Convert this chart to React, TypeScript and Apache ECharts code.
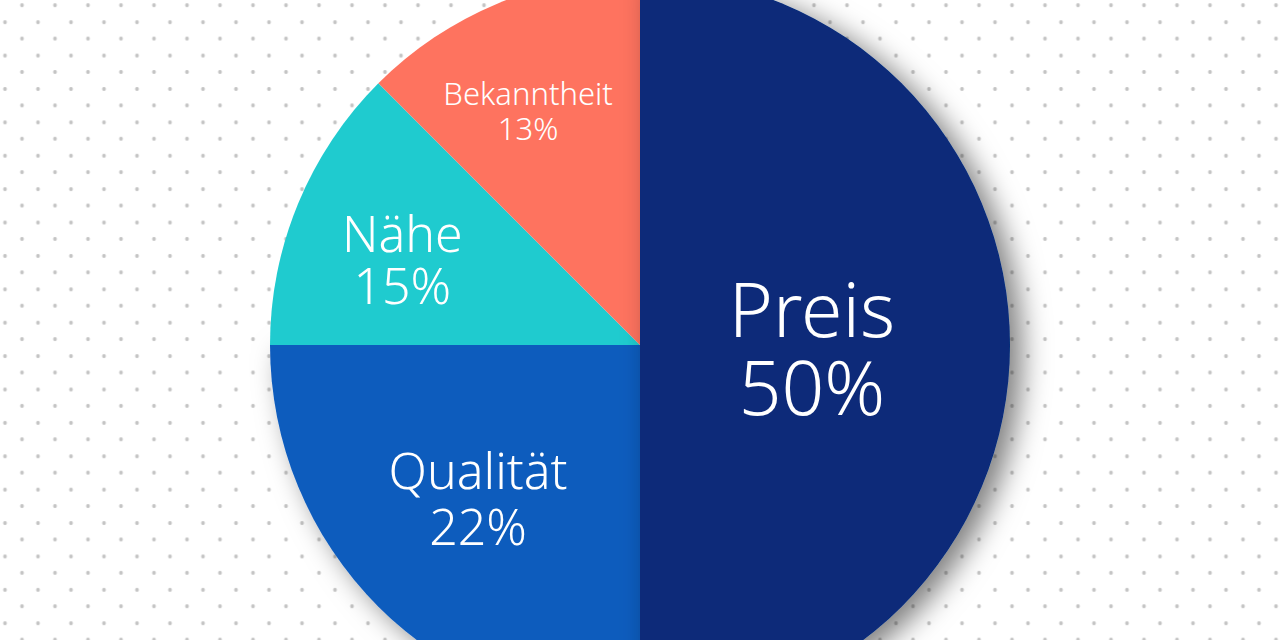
import React, { useEffect, useRef } from "react";
import * as echarts from "echarts";

// Slices in drawing order (clockwise from the bottom)
const categories = ["Qualität", "Nähe", "Bekanntheit", "Preis"];
// Angular shares as drawn in the picture
const shares = [25, 12.5, 12.5, 50];
// Percent labels printed on the slices
const percentLabels = ["22%", "15%", "13%", "50%"];
const colors = ["#0c5bbd", "#1fcbcf", "#fe735f", "#072b79"];
const fontSizes = [50, 50, 31, 75];
const lineHeights = [56, 52, 35, 78];
const labelShift: number[][] = [
  [-29, 20],
  [-64, -14],
  [-40, -61],
  [-16, 2],
];
const shadowed = [true, false, false, true];

export default function App() {
  const ref = useRef<HTMLDivElement>(null);
  useEffect(() => {
    if (!ref.current) return;
    const chart = echarts.init(ref.current, null, { renderer: "svg" });
    chart.setOption({
      animation: false,
      backgroundColor: "transparent",
      series: [
        {
          type: "pie",
          center: [640, 345],
          radius: 370,
          startAngle: 270,
          clockwise: true,
          avoidLabelOverlap: false,
          silent: true,
          labelLine: { show: false },
          label: {
            show: true,
            position: "inside",
            color: "#ffffff",
            fontFamily: "'Noto Sans', sans-serif",
            fontWeight: 300,
            align: "center",
            formatter: (p: any) => `${p.name}\n${percentLabels[p.dataIndex]}`,
          },
          labelLayout: (p: any) => ({
            dx: labelShift[p.dataIndex][0],
            dy: labelShift[p.dataIndex][1],
          }),
          data: categories.map((name, i) => ({
            name,
            value: shares[i],
            itemStyle: {
              color: colors[i],
              borderWidth: 0,
              shadowBlur: shadowed[i] ? 28 : 0,
              shadowOffsetX: shadowed[i] ? 12 : 0,
              shadowOffsetY: shadowed[i] ? 8 : 0,
              shadowColor: shadowed[i] ? "rgba(0,0,0,0.5)" : "transparent",
            },
            label: { fontSize: fontSizes[i], lineHeight: lineHeights[i] },
          })),
        },
      ],
    });
    return () => chart.dispose();
  }, []);

  const dot = "radial-gradient(circle, #c4c4c4 1.6px, rgba(255,255,255,0) 2.2px)";
  return (
    <div
      style={{
        position: "fixed",
        left: 0,
        top: 0,
        width: 1280,
        height: 640,
        backgroundColor: "#ffffff",
        backgroundImage: `${dot}, ${dot}`,
        backgroundSize: "33px 33.4px, 33px 33.4px",
        backgroundPosition: "5.5px -11.5px, -11.5px 5.5px",
      }}
    >
      <div ref={ref} style={{ width: 1280, height: 640 }} />
    </div>
  );
}
